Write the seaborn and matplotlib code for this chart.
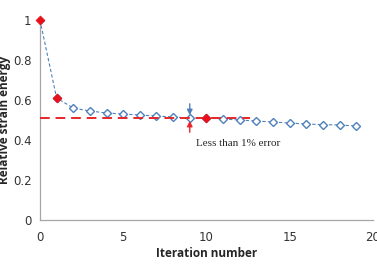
import numpy as np
import pandas as pd
import seaborn as sns
import matplotlib.pyplot as plt

iterations = list(range(20))
strain_energy = [1.0, 0.61, 0.56, 0.545, 0.535, 0.53, 0.525, 0.52, 0.515, 0.51,
                 0.51, 0.505, 0.50, 0.495, 0.49, 0.485, 0.48, 0.477, 0.475, 0.47]
red_iters = [0, 1, 10]
converged_value = 0.51
line_end = 12.6
arrow_iter = 9
note = "Less than 1% error"

df = pd.DataFrame({"Iteration": iterations, "Energy": strain_energy})
red = df[df["Iteration"].isin(red_iters)]

sns.set_style("white")
fig = plt.figure(figsize=(3.77, 2.70), dpi=100)
ax = fig.add_axes([0.106, 0.185, 0.883, 0.741])

blue = "#4F81BD"
sns.lineplot(data=df, x="Iteration", y="Energy", ax=ax, color=blue, lw=0.8,
             linestyle=(0, (3, 2)), marker="D", markersize=4.5,
             markerfacecolor="white", markeredgecolor=blue, markeredgewidth=1.0)
ax.plot([0, line_end], [converged_value, converged_value], color="#E8262A",
        lw=1.4, linestyle=(0, (5, 3)), zorder=3)
sns.scatterplot(data=red, x="Iteration", y="Energy", ax=ax, color="#E8101A",
                marker="D", s=22, edgecolor="#E8101A", zorder=5, clip_on=False)

# arrows marking the error band
ax.annotate("", xy=(arrow_iter, converged_value), xytext=(arrow_iter, converged_value + 0.085),
            arrowprops=dict(arrowstyle="-|>", color=blue, lw=1.0, mutation_scale=8))
ax.annotate("", xy=(arrow_iter, converged_value), xytext=(arrow_iter, converged_value - 0.085),
            arrowprops=dict(arrowstyle="-|>", color="#E8262A", lw=1.0, mutation_scale=8))
ax.text(9.4, 0.385, note, fontsize=8, family="Liberation Serif", va="center", ha="left")

ax.set_xlim(0, 20)
ax.set_ylim(0, 1)
ax.set_xticks([0, 5, 10, 15, 20])
ax.set_yticks([0, 0.2, 0.4, 0.6, 0.8, 1])
ax.set_yticklabels(["0", "0.2", "0.4", "0.6", "0.8", "1"])
ax.tick_params(axis="both", labelsize=8.5, colors="#333333", length=3, width=0.8)
ax.tick_params(axis="x", direction="in", pad=8)
ax.tick_params(axis="y", direction="out", pad=3)
for s in ["top", "right"]:
    ax.spines[s].set_visible(False)
for s in ["left", "bottom"]:
    ax.spines[s].set_color("#A6A6A6")
    ax.spines[s].set_linewidth(0.9)
ax.set_xlabel("Iteration number", fontsize=8.5, fontweight="bold", family="Open Sans", labelpad=2)
ax.set_ylabel("Relative strain energy", fontsize=8.5, fontweight="bold", family="Open Sans", labelpad=1.5)

fig.savefig("out.png", dpi=100)
